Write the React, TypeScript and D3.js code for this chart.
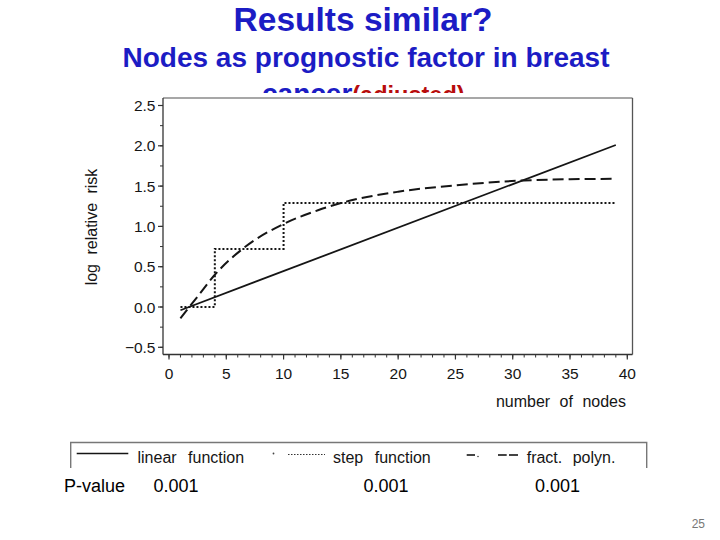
import React from "react";
import * as d3 from "d3";

const xTicks = [0, 5, 10, 15, 20, 25, 30, 35, 40];
const yTicks = [-0.5, 0, 0.5, 1, 1.5, 2, 2.5];
const yTickLabels = ["\u22120.5", "0.0", "0.5", "1.0", "1.5", "2.0", "2.5"];

const linearX = [1, 39];
const linearY = [-0.04, 2.01];
const stepX = [1, 4, 10, 39];
const stepY = [0, 0.72, 1.29, 1.29];
const fpX = [1, 1.77, 2.5, 4, 6.5, 10, 13, 15, 20, 25, 31, 35, 39];
const fpY = [-0.14, 0, 0.13, 0.4, 0.73, 1.03, 1.2, 1.29, 1.43, 1.51, 1.57, 1.585, 1.59];

const legendLabels = ["linear function", "step function", "fract. polyn."];
const pValueLabel = "P-value";
const pValues = ["0.001", "0.001", "0.001"];

const FONT = "'Liberation Sans', Arial, Helvetica, sans-serif";
const INK = "#151515";

export default function App() {
  const x = d3.scaleLinear().domain([0, 40]).range([169, 627.3]);
  const y = d3.scaleLinear().domain([-0.5, 2.5]).range([347.3, 105.5]);
  const frame = { left: 163, top: 98, right: 632.5, bottom: 354.5 };

  const line = d3
    .line<[number, number]>()
    .x((d) => x(d[0]))
    .y((d) => y(d[1]));
  const linPath = line(linearX.map((v, i) => [v, linearY[i]]) as [number, number][]) || "";
  const stepPath =
    line.curve(d3.curveStepAfter)(stepX.map((v, i) => [v, stepY[i]]) as [number, number][]) || "";
  const fpPath =
    line.curve(d3.curveMonotoneX)(fpX.map((v, i) => [v, fpY[i]]) as [number, number][]) || "";

  const xMinor = d3.range(0, 41, 1);
  const yMinor = d3.range(-0.5, 2.51, 0.25);

  return (
    <div style={{ position: "absolute", left: 0, top: 0 }}>
      <svg width={720} height={540} style={{ display: "block", background: "#fff" }}>
        {/* slide titles */}
        <text x={363} y={30.5} textAnchor="middle" fontFamily={FONT} fontWeight="bold" fontSize={33.5} fill="#1c1cc4">
          Results similar?
        </text>
        <text x={366} y={67} textAnchor="middle" fontFamily={FONT} fontWeight="bold" fontSize={28} fill="#1c1cc4">
          Nodes as prognostic factor in breast
        </text>
        <text x={262} y={103} fontFamily={FONT} fontWeight="bold" fontSize={28} fill="#1c1cc4">
          cancer
          <tspan fill="#b80c0c" fontSize={23.5}>(adjusted)</tspan>
        </text>
        {/* chart picture background covering the third line */}
        <rect x={60} y={93} width={600} height={375} fill="#fff" />

        {/* plot frame */}
        <line x1={frame.left} x2={frame.right} y1={frame.top} y2={frame.top} stroke="#8a8a8a" strokeWidth={1.3} />
        <line x1={frame.right} x2={frame.right} y1={frame.top} y2={frame.bottom} stroke="#555" strokeWidth={1.3} />
        <line x1={frame.left} x2={frame.left} y1={frame.top} y2={frame.bottom} stroke="#333" strokeWidth={1.3} />
        <line x1={frame.left} x2={frame.right} y1={frame.bottom} y2={frame.bottom} stroke="#333" strokeWidth={1.3} />

        {/* y ticks */}
        {yMinor.map((v, i) => (
          <line key={"ym" + i} x1={frame.left} x2={frame.left - 3} y1={y(v)} y2={y(v)} stroke="#333" strokeWidth={1} />
        ))}
        {yTicks.map((v, i) => (
          <g key={"yt" + i}>
            <line x1={frame.left} x2={frame.left - 5} y1={y(v)} y2={y(v)} stroke="#333" strokeWidth={1.2} />
            <text x={155.5} y={y(v) + 5.5} textAnchor="end" fontFamily={FONT} fontSize={15.5} fill={INK}>
              {yTickLabels[i]}
            </text>
          </g>
        ))}

        {/* x ticks */}
        {xMinor.map((v, i) => (
          <line key={"xm" + i} x1={x(v)} x2={x(v)} y1={frame.bottom} y2={frame.bottom + 3} stroke="#333" strokeWidth={1} />
        ))}
        {xTicks.map((v, i) => (
          <g key={"xt" + i}>
            <line x1={x(v)} x2={x(v)} y1={frame.bottom} y2={frame.bottom + 5} stroke="#333" strokeWidth={1.2} />
            <text x={x(v)} y={379} textAnchor="middle" fontFamily={FONT} fontSize={15.5} fill={INK}>
              {String(v)}
            </text>
          </g>
        ))}

        {/* axis titles */}
        <text x={626} y={406.5} textAnchor="end" fontFamily={FONT} fontSize={16} wordSpacing={5} fill={INK}>
          number of nodes
        </text>
        <text
          transform="translate(97,227) rotate(-90)"
          textAnchor="middle"
          fontFamily={FONT}
          fontSize={16}
          wordSpacing={5}
          fill={INK}
        >
          log relative risk
        </text>

        {/* curves */}
        <path d={stepPath} fill="none" stroke={INK} strokeWidth={2} strokeDasharray="2,2" />
        <path d={fpPath} fill="none" stroke={INK} strokeWidth={2} strokeDasharray="11,5" />
        <path d={linPath} fill="none" stroke={INK} strokeWidth={1.8} />

        {/* legend box (cut at picture edge) */}
        <path d="M70.7,468 V442.5 H646.7 V468" fill="none" stroke="#777" strokeWidth={1.4} />
        <line x1={76.7} x2={128.3} y1={453.5} y2={453.5} stroke={INK} strokeWidth={1.6} />
        <text x={137.5} y={462.5} fontFamily={FONT} fontSize={16} wordSpacing={7} fill={INK}>
          {legendLabels[0]}
        </text>
        <circle cx={273.5} cy={453.5} r={0.9} fill="#444" />
        <line x1={288} x2={325} y1={454.5} y2={454.5} stroke="#333" strokeWidth={1.1} strokeDasharray="1.5,1.5" />
        <text x={333} y={462.5} fontFamily={FONT} fontSize={16} wordSpacing={7} fill={INK}>
          {legendLabels[1]}
        </text>
        <line x1={466.7} x2={475} y1={455} y2={455} stroke={INK} strokeWidth={1.6} />
        <circle cx={478} cy={456.5} r={0.8} fill="#444" />
        <line x1={498} x2={506.7} y1={455} y2={455} stroke={INK} strokeWidth={1.6} />
        <line x1={509} x2={518} y1={455} y2={455} stroke={INK} strokeWidth={1.6} />
        <text x={526.7} y={462.5} fontFamily={FONT} fontSize={16} wordSpacing={6} fill={INK}>
          {legendLabels[2]}
        </text>

        {/* p-values */}
        <text x={64} y={492} fontFamily={FONT} fontSize={18} fill="#000">
          {pValueLabel}
        </text>
        {[153.5, 363.5, 535].map((px, i) => (
          <text key={"pv" + i} x={px} y={492} fontFamily={FONT} fontSize={18} fill="#000">
            {pValues[i]}
          </text>
        ))}

        {/* slide number */}
        <text x={705} y={528} textAnchor="end" fontFamily={FONT} fontSize={12} fill="#777">
          25
        </text>
      </svg>
    </div>
  );
}
